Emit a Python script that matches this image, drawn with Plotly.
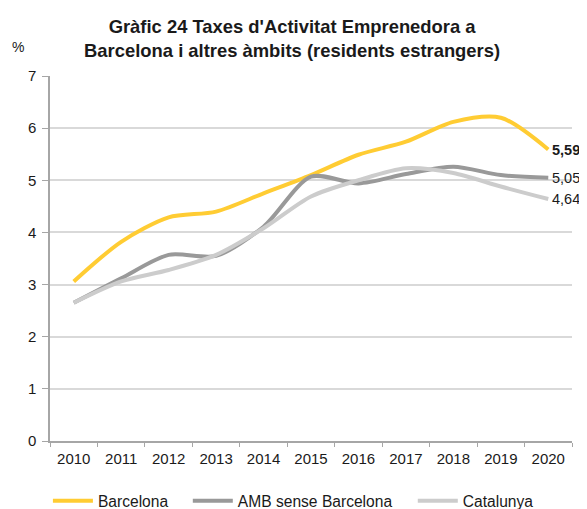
import plotly.graph_objects as go

years = ["2010", "2011", "2012", "2013", "2014", "2015", "2016", "2017", "2018", "2019", "2020"]
barcelona = [3.06, 3.82, 4.29, 4.40, 4.75, 5.10, 5.49, 5.74, 6.12, 6.20, 5.59]
amb = [2.65, 3.12, 3.57, 3.55, 4.11, 5.07, 4.94, 5.12, 5.26, 5.10, 5.05]
catalunya = [2.65, 3.06, 3.28, 3.57, 4.08, 4.69, 5.00, 5.23, 5.14, 4.88, 4.64]
end_labels = ["5,59", "5,05", "4,64"]

FONT = "Liberation Sans, Arial, sans-serif"
C_BCN = "#FFCC33"
C_AMB = "#999999"
C_CAT = "#CCCCCC"

fig = go.Figure()
series = [("Barcelona", barcelona, C_BCN, "legend"),
          ("AMB sense Barcelona", amb, C_AMB, "legend2"),
          ("Catalunya", catalunya, C_CAT, "legend3")]
for name, vals, col, lg in series:
    fig.add_trace(go.Scatter(x=years, y=vals, name=name, mode="lines", legend=lg,
                             line=dict(color=col, width=4, shape="spline", smoothing=0.8),
                             hoverinfo="skip"))

last = len(years) - 1
for txt, val, bold in [(end_labels[0], barcelona[-1], True),
                       (end_labels[1], amb[-1], False),
                       (end_labels[2], catalunya[-1], False)]:
    fig.add_annotation(x=last, y=val, text=f"<b>{txt}</b>" if bold else txt,
                       showarrow=False, xanchor="left", yanchor="middle", xshift=2,
                       font=dict(family=FONT, size=14.5, color="#1a1a1a"))

fig.add_annotation(x=-0.061, y=1.079, xref="paper", yref="paper", text="%",
                   showarrow=False, xanchor="center", yanchor="middle",
                   font=dict(family=FONT, size=14, color="#1a1a1a"))

def leg(x):
    return dict(orientation="h", x=x, xanchor="left", y=-0.165, yanchor="middle",
                font=dict(size=15.6), bgcolor="rgba(0,0,0,0)", itemwidth=40)

fig.update_layout(
    width=587, height=509,
    margin=dict(l=42, r=23, t=68, b=76, autoexpand=False),
    paper_bgcolor="white", plot_bgcolor="white",
    font=dict(family=FONT, size=15, color="#1a1a1a"),
    title=dict(text="<b>Gràfic 24 Taxes d'Activitat Emprenedora a<br>Barcelona i altres àmbits (residents estrangers)</b>",
               x=0.484, xanchor="center", y=0.951, yanchor="middle",
               font=dict(family=FONT, size=18.4, color="#1a1a1a")),
    xaxis=dict(type="category", range=[-0.5, 10.5], showline=True, linecolor="#A6A6A6",
               linewidth=1.5, ticks="outside", tickson="boundaries", ticklen=4,
               tickcolor="#A6A6A6", showgrid=False, tickfont=dict(size=15),
               ticklabelstandoff=3),
    yaxis=dict(range=[0, 7], dtick=1, showline=True, linecolor="#A6A6A6", linewidth=1.5,
               ticks="outside", ticklen=6, tickcolor="#A6A6A6", gridcolor="#D9D9D9",
               gridwidth=1.5, zeroline=False, tickfont=dict(size=15),
               ticklabelstandoff=3),
    legend=leg(-0.004),
    legend2=leg(0.264),
    legend3=leg(0.695),
    showlegend=True,
)

fig.write_html("out.html")
